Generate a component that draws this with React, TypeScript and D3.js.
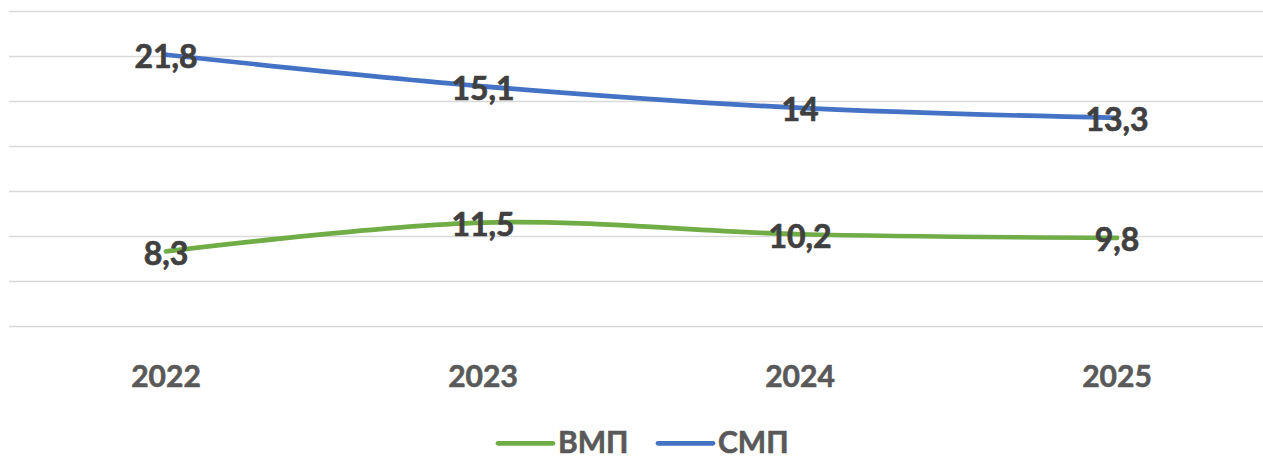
import React from "react";
import * as d3 from "d3";

const years = ["2022", "2023", "2024", "2025"];
const vmp = [8.3, 11.5, 10.2, 9.8];
const smp = [21.8, 15.1, 14, 13.3];
const seriesNames = ["ВМП", "СМП"];
const seriesColors = ["#70AD47", "#4472C4"];
const yTicks = [0, 5, 10, 15, 20, 25, 30, 35];

const W = 1263;
const H = 458;
const FONT = "Lato, 'Open Sans', sans-serif";

export default function App() {
  const rows = years.map((y, i) => ({ year: y, ВМП: vmp[i], СМП: smp[i] }));
  const stacked = d3.stack<any>().keys(seriesNames)(rows);

  const x = d3.scalePoint<string>().domain(years).range([166, 1117]);
  const y = d3.scaleLinear().domain([0, 35]).range([326.3, 10.5]);

  const line = d3
    .line<any>()
    .x((d) => x(d.data.year) as number)
    .y((d) => y(d[1]))
    .curve(d3.curveCatmullRom.alpha(0));

  const raw = [vmp, smp];

  return (
    <svg
      width={W}
      height={H}
      style={{ position: "absolute", left: 0, top: 0, background: "#fff" }}
      fontFamily={FONT}
    >
      {yTicks.map((t) => (
        <line
          key={t}
          x1={9}
          x2={W}
          y1={Math.round(y(t)) + 0.5}
          y2={Math.round(y(t)) + 0.5}
          stroke="#D9D9D9"
          strokeWidth={1.5}
        />
      ))}
      {stacked.map((s, si) => (
        <path
          key={s.key}
          d={line(s) || ""}
          fill="none"
          stroke={seriesColors[si]}
          strokeWidth={4.7}
          strokeLinecap="round"
        />
      ))}
      {stacked.map((s, si) =>
        s.map((d, i) => (
          <text
            key={s.key + i}
            x={x(d.data.year)}
            y={y(d[1]) + 13.5}
            textAnchor="middle"
            fontSize={32}
            fontWeight={700}
            fill="#404040"
            stroke="#404040"
            strokeWidth={0.7}
          >
            {String(raw[si][i]).replace(".", ",")}
          </text>
        ))
      )}
      {years.map((yr) => (
        <text
          key={yr}
          x={x(yr)}
          y={387}
          textAnchor="middle"
          fontSize={30}
          fontWeight={700}
          fill="#595959"
          stroke="#595959"
          strokeWidth={0.6}
        >
          {yr}
        </text>
      ))}
      {seriesNames.map((n, i) => {
        const lx = [498, 658][i];
        return (
          <g key={n}>
            <line
              x1={lx}
              x2={lx + 55}
              y1={443.3}
              y2={443.3}
              stroke={seriesColors[i]}
              strokeWidth={4.7}
              strokeLinecap="round"
            />
            <text
              x={lx + 60}
              y={453}
              fontSize={30}
              fontWeight={700}
              fill="#595959"
              stroke="#595959"
              strokeWidth={0.6}
            >
              {n}
            </text>
          </g>
        );
      })}
    </svg>
  );
}
